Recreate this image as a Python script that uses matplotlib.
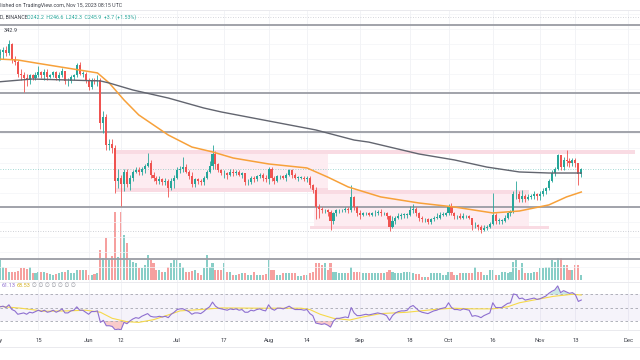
import numpy as np
import pandas as pd
import matplotlib
matplotlib.use("Agg")
import matplotlib.pyplot as plt
import matplotlib.dates as mdates
from matplotlib.colors import to_rgba
from matplotlib.patches import Rectangle
from matplotlib.transforms import blended_transform_factory

plt.rcParams["font.family"] = ["Roboto", "DejaVu Sans"]

# BNB / USD daily, Binance, 1 May - 15 Nov 2023 (open = previous close)
first_open = 330.0
closes = [
    # May
    323, 325, 326, 324, 330, 320, 318, 310, 309, 307, 306, 309, 307, 309, 311, 309,
    311, 308, 309, 311, 307, 309, 312, 305, 305, 308, 309, 316, 310, 310, 306,
    # Jun
    301, 306, 305, 306, 277, 281, 262, 263, 260, 238, 240, 236, 244, 236, 240,
    244, 245, 244, 246, 248, 250, 242, 240, 238, 239, 237, 238, 233, 238, 240,
    # Jul
    245, 246, 247, 244, 241, 236, 239, 238, 237, 240, 244, 248, 256, 249, 245, 243,
    243, 242, 244, 243, 244, 242, 243, 237, 237, 240, 239, 241, 242, 240, 239,
    # Aug
    246, 240, 238, 241, 241, 240, 242, 245, 242, 240, 240, 240, 239, 240, 235, 232,
    220, 219, 218, 218, 217, 211, 216, 218, 218, 218, 219, 218, 227, 220, 216,
    # Sep
    215, 216, 216, 215, 216, 216, 217, 216, 216, 214, 207, 211, 213, 214, 215,
    215, 215, 218, 219, 216, 213, 212, 212, 210, 212, 213, 213, 215, 215, 216,
    # Oct
    221, 216, 214, 214, 213, 214, 214, 213, 208, 208, 207, 205, 206, 207, 209, 215,
    211, 211, 211, 213, 216, 217, 229, 229, 226, 228, 226, 227, 228, 229, 228,
    # Nov
    229, 231, 233, 238, 243, 246, 255, 247, 252, 251, 250, 252, 250, 242.2, 245.9,
]
highs = [
    331, 327, 328, 329, 333, 331, 322, 319, 313, 311, 310, 310, 310, 311, 315, 312,
    313, 313, 310, 312, 312, 311, 314, 312, 307, 309, 310, 317, 318, 312, 311,
    307, 307, 307, 309, 307, 285, 283, 266, 266, 262, 246, 242, 246, 246, 242,
    245, 247, 247, 247, 249, 257, 252, 244, 241, 241, 240, 240, 239, 240, 242,
    247, 248, 254, 249, 245, 244, 240, 240, 239, 241, 245, 251, 262, 258, 250, 246,
    245, 244, 246, 246, 245, 245, 244, 243, 239, 241, 241, 242, 243, 243, 242,
    247, 247, 241, 242, 242, 242, 243, 246, 246, 243, 241, 241, 241, 241, 241, 236,
    234, 222, 220, 219, 219, 218, 217, 219, 219, 219, 220, 220, 235, 228, 221,
    218, 217, 217, 217, 217, 218, 218, 219, 217, 217, 215, 214, 214, 216, 216,
    216, 216, 221, 222, 220, 217, 214, 213, 213, 213, 214, 216, 217, 217, 217,
    222, 223, 217, 215, 216, 216, 215, 215, 213, 210, 209, 208, 208, 208, 210, 230,
    216, 213, 212, 215, 217, 218, 231, 238, 231, 232, 229, 229, 229, 231, 230,
    231, 233, 234, 239, 245, 247, 256, 255, 254, 259, 253, 253, 253, 250, 246.6,
]
lows = [
    318, 319, 320, 322, 323, 317, 316, 308, 306, 298, 302, 303, 306, 306, 308, 307,
    306, 306, 307, 308, 306, 305, 308, 303, 302, 304, 306, 308, 309, 308, 304,
    299, 300, 303, 302, 273, 270, 259, 259, 257, 230, 233, 221, 231, 234, 232,
    238, 243, 242, 242, 243, 247, 240, 238, 236, 236, 235, 235, 227, 232, 233,
    239, 243, 244, 243, 239, 234, 234, 236, 235, 235, 239, 243, 246, 246, 244, 242,
    240, 239, 241, 241, 242, 241, 240, 235, 235, 236, 237, 238, 240, 238, 237,
    236, 238, 236, 237, 239, 239, 238, 241, 240, 239, 238, 239, 238, 237, 233, 230,
    212, 213, 216, 216, 214, 205, 209, 214, 216, 217, 217, 216, 217, 218, 214,
    212, 214, 215, 214, 214, 214, 215, 214, 215, 212, 204, 206, 209, 212, 212,
    213, 213, 214, 216, 214, 211, 210, 210, 209, 209, 211, 212, 212, 214, 214,
    215, 215, 212, 212, 212, 212, 213, 212, 205, 206, 205, 203, 204, 205, 206, 208,
    209, 209, 209, 210, 212, 214, 216, 226, 224, 224, 224, 225, 226, 226, 225,
    225, 228, 229, 232, 237, 241, 245, 245, 245, 248, 247, 248, 247, 235, 240.3,
]
volumes = [
    18, 20, 13, 12, 8, 8, 8, 9, 12, 12, 11, 13, 7, 7, 8, 8, 8, 7, 6, 5, 6, 7, 8, 8,
    10, 7, 7, 10, 10, 10, 10,
    5, 5, 6, 7, 30, 22, 42, 20, 24, 68, 23, 68, 45, 37, 20, 18, 17, 12, 12, 15, 25,
    20, 17, 10, 10, 8, 8, 13, 17, 20,
    20, 17, 13, 8, 8, 9, 10, 7, 5, 12, 25, 13, 17, 10, 10, 10, 17, 8, 8, 5, 5, 6, 7,
    7, 5, 5, 8, 5, 5, 5, 6,
    20, 10, 10, 5, 5, 7, 7, 7, 7, 7, 4, 4, 5, 5, 7, 8, 17, 17, 15, 17, 10, 17, 8, 8,
    7, 7, 7, 7, 13, 8, 8,
    8, 7, 7, 7, 7, 7, 7, 7, 7, 8, 10, 8, 7, 7, 7, 8, 8, 8, 7, 6, 6, 3, 3, 3, 7, 7,
    7, 7, 5, 5,
    8, 8, 5, 5, 7, 7, 7, 7, 7, 13, 8, 8, 5, 5, 10, 10, 5, 5, 8, 8, 7, 8, 18, 20, 10,
    17, 7, 7, 7, 8, 8,
    12, 12, 13, 13, 20, 18, 22, 22, 15, 15, 10, 10, 15, 15, 5,
]
rsi = [
    50, 51, 52, 50, 54, 47, 45, 40, 41, 42, 40, 43, 42, 44, 46, 44, 46, 43, 44, 46,
    43, 45, 48, 42, 42, 45, 46, 51, 46, 46, 43,
    40, 44, 44, 45, 28, 31, 23, 23, 22, 17, 18, 17, 28, 26, 30, 33, 35, 34, 37, 39,
    41, 37, 36, 36, 37, 36, 37, 35, 40, 43,
    47, 48, 48, 46, 44, 40, 42, 42, 41, 44, 48, 51, 58, 52, 49, 48, 47, 46, 48, 47,
    48, 46, 47, 43, 43, 46, 45, 47, 48, 46, 45,
    54, 48, 46, 49, 49, 48, 50, 52, 49, 47, 47, 47, 46, 47, 41, 38, 27, 26, 25, 26,
    24, 21, 30, 34, 34, 35, 36, 35, 50, 42, 38,
    38, 39, 40, 39, 40, 41, 42, 41, 40, 38, 31, 38, 42, 44, 45, 45, 46, 51, 53, 49,
    45, 43, 42, 41, 43, 45, 46, 48, 49, 50,
    57, 50, 47, 47, 46, 48, 47, 46, 37, 38, 37, 35, 38, 40, 42, 57, 50, 50, 50, 53,
    56, 57, 70, 69, 63, 64, 61, 62, 63, 64, 62,
    63, 65, 67, 71, 74, 76, 82, 72, 75, 73, 71, 72, 69, 59, 61.13,
]

# moving averages (days after 1 May)
ma_fast_days = [0, 7, 14, 34, 38, 43, 48, 58, 66, 73, 80, 92, 105, 112, 119, 130,
                143, 155, 168, 177, 187, 193, 198]
ma_fast_vals = [320, 319.3, 317, 310.6, 303.8, 292.4, 282.3, 268.8, 260.7, 257.4,
                253.3, 249.3, 246.6, 240.5, 233.8, 227.1, 223, 220.3, 216.3, 217.6,
                221.7, 227.1, 230.4]
ma_slow_days = [0, 12, 35, 38, 46, 58, 70, 76, 90, 108, 121, 126, 143, 155, 166,
                177, 187, 198]
ma_slow_vals = [304.5, 306.5, 305.2, 303.8, 299.1, 293.7, 287, 284.3, 279, 272.2,
                265.4, 264, 256, 252, 247.2, 243.9, 243.2, 243.2]
rsi_ma_days = [0, 8, 16, 24, 30, 35, 39, 44, 48, 53, 58, 62, 69, 76, 89, 103, 106,
               109.5, 114, 119.5, 124, 130, 139, 148, 154.5, 161, 168, 173, 177,
               183, 188.5, 195, 198]
rsi_ma_vals = [52, 49, 44.5, 45, 46, 43, 34, 29, 28, 32, 39, 45, 47, 49.4, 49, 49,
               47, 40, 34, 31.5, 36, 41, 43, 47, 49, 48, 48, 51, 57, 62, 66.5, 69.6,
               68.53]

level_prices = [342.9, 297.1, 270.8, 220.3, 185.3]
last_price = 245.9
low_mark = 204.1
high_mark = 348.3

tick_dates = ["2023-05-01", "2023-05-15", "2023-06-01", "2023-06-12", "2023-07-01",
              "2023-07-17", "2023-08-01", "2023-08-14", "2023-09-01", "2023-09-18",
              "2023-10-01", "2023-10-16", "2023-11-01", "2023-11-13", "2023-12-01"]
tick_labels = ["May", "15", "Jun", "12", "Jul", "17", "Aug", "14", "Sep", "18",
               "Oct", "16", "Nov", "13", "Dec"]

UP, DOWN = "#26a69a", "#ef5350"
W, H = 640, 360


def band(top, bottom):
    return [0, 1 - bottom / H, 1, (bottom - top) / H]


dates = pd.date_range("2023-05-01", periods=len(closes), freq="D")
x = mdates.date2num(dates)
base = mdates.date2num(pd.Timestamp("2023-05-01"))
closes = np.array(closes, float)
opens = np.r_[first_open, closes[:-1]]
highs = np.maximum(np.array(highs, float), np.maximum(opens, closes))
lows = np.minimum(np.array(lows, float), np.minimum(opens, closes))
up = closes >= opens
cols = np.where(up, UP, DOWN)

fig = plt.figure(figsize=(6.4, 3.6), dpi=100)
ax_vol = fig.add_axes(band(212, 280))
ax = fig.add_axes(band(11, 282))
ax_rsi = fig.add_axes(band(283, 330))
ax_vol.set_zorder(0)
ax.set_zorder(1)
ax.set_facecolor("none")

xlim = (base + 0.97, base + 217.9)
tick_x = mdates.date2num(pd.to_datetime(tick_dates))
for a in (ax_vol, ax, ax_rsi):
    a.set_xlim(*xlim)
    a.set_xticks([])
    a.set_yticks([])
    for s in a.spines.values():
        s.set_visible(False)

# grid
for tx in tick_x:
    ax.axvline(tx, color="#f0f1f5", lw=0.6, zorder=0)
    ax_rsi.axvline(tx, color="#f0f1f5", lw=0.6, zorder=0)
for p in range(180, 360, 10):
    ax.axhline(p, color="#f3f4f7", lw=0.5, zorder=0)

# zones
zones = [(40, 216.2, 256.0, 258.7, "#f9dbe3"), (40, 112.2, 230.4, 256.0, "#fdecf1"),
         (40, 112.2, 230.4, 233.1, "#f9dbe3"), (107.4, 180.3, 207.5, 229.0, "#fdecf1"),
         (107.1, 180.3, 229.0, 231.7, "#f9dbe3"), (106.1, 187.1, 205.5, 207.5, "#f9dbe3")]
for d0, d1, p0, p1, c in zones:
    ax.add_patch(Rectangle((base + d0, p0), d1 - d0, p1 - p0, color=c, lw=0, zorder=1))

# level lines
for p in level_prices:
    ax.axhline(p, color="#9a9ca4", lw=1.3, zorder=2)
ax.axhline(last_price, color=UP, lw=0.6, ls=(0, (1, 2)), alpha=0.55, zorder=2)
ax.axhline(low_mark, color="#c0c2c9", lw=0.6, ls=(0, (1, 2)), zorder=2)
ax.plot([base + 45, xlim[1]], [high_mark, high_mark], color="#c8cad0", lw=0.6,
        ls=(0, (1, 2)), zorder=2)

# volume
vcols = [to_rgba(c, 0.55) for c in cols]
ax_vol.bar(x, volumes, width=0.7, color=vcols, lw=0)
ax_vol.set_ylim(0, max(volumes))

# candles
ax.vlines(x, lows, highs, colors=cols, lw=0.6, zorder=4)
body_lo = np.minimum(opens, closes)
body_h = np.maximum(np.abs(closes - opens), 0.35)
ax.bar(x, body_h, bottom=body_lo, width=0.7, color=cols, lw=0, zorder=5)

ax.plot(base + np.array(ma_fast_days), ma_fast_vals, color="#f7a13a", lw=1.1, zorder=6)
ax.plot(base + np.array(ma_slow_days), ma_slow_vals, color="#62656f", lw=1.0, zorder=6)
ax.set_ylim(169.8, 352.3)

# RSI
rsi = np.array(rsi, float)
ax_rsi.axhspan(30, 70, color="#7e57c2", alpha=0.07, lw=0)
for lvl in (70, 50, 30):
    ax_rsi.axhline(lvl, color="#a4a6b0", lw=0.6, ls=(0, (3, 3)))
ax_rsi.fill_between(x, 70, rsi, where=rsi > 70, interpolate=True, color=UP, alpha=0.25, lw=0)
ax_rsi.fill_between(x, rsi, 30, where=rsi < 30, interpolate=True, color=DOWN, alpha=0.3, lw=0)
ax_rsi.plot(base + np.array(rsi_ma_days), rsi_ma_vals, color="#f5d94a", lw=0.8)
ax_rsi.plot(x, rsi, color="#8e6fd0", lw=0.8)
ax_rsi.set_ylim(16.7, 86.3)

# time axis labels
tr = blended_transform_factory(ax_rsi.transData, ax_rsi.transAxes)
for tx, lab in zip(tick_x, tick_labels):
    ax_rsi.text(tx, -0.213, lab, transform=tr, ha="center", va="center",
                fontsize=4.2, color="#3c3f48", clip_on=False)

# pane borders
for yy in (10, 282, 330, 347):
    fig.add_artist(plt.Line2D([0, 1], [1 - yy / H] * 2, color="#e6e7eb", lw=0.6))

# header and legends
fig.text(-9 / W, 1 - 5 / H, "Published on TradingView.com, Nov 15, 2023 08:15 UTC",
         fontsize=3.8, color="#3c3f48", va="center")
fig.text(0, 1 - 17 / H, "D, BINANCE", fontsize=3.8, color="#3c3f48", va="center")
fig.text(27 / W, 1 - 17 / H, "O242.2  H246.6  L242.3  C245.9  +3.7 (+1.53%)",
         fontsize=3.8, color=UP, va="center")
fig.text(4 / W, 1 - 30 / H, "342.9", fontsize=4, color="#3c3f48", va="center")
fig.text(2 / W, 1 - 285.5 / H, "61.13", fontsize=4, color="#8e6fd0", va="center")
fig.text(17 / W, 1 - 285.5 / H, "68.53", fontsize=4, color="#d4b020", va="center")
fig.text(32 / W, 1 - 285.5 / H, "\u2205 \u2205 \u2205 \u2205 \u2205 \u2205 \u2205",
         fontsize=4, color="#8e9099", va="center", family=["DejaVu Sans"])

fig.savefig("out.png", dpi=100)
